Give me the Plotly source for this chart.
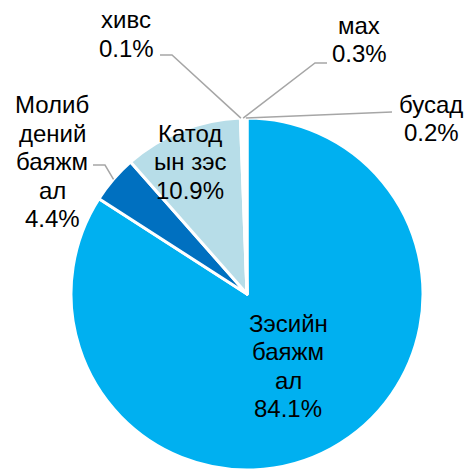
import math
import plotly.graph_objects as go

# ---- data ----
labels = ["Зэсийн баяжмал", "Молибдений баяжмал", "Катодын зэс", "хивс", "мах", "бусад"]
label_lines = [
    ["Зэсийн", "баяжм", "ал"],
    ["Молиб", "дений", "баяжм", "ал"],
    ["Катод", "ын зэс"],
    ["хивс"],
    ["мах"],
    ["бусад"],
]
values = [84.1, 4.4, 10.9, 0.1, 0.3, 0.2]
colors = ["#00B0F0", "#0070C0", "#B7DDE8", "#FFFFFF", "#FFFFFF", "#FFFFFF"]

# ---- layout constants (target-picture pixels) ----
W, H = 468, 470
CX, CY, R = 247, 294, 176
FONT = dict(family="Liberation Sans, Arial, sans-serif", size=24, color="#000000")
LINE_H = 28.5
LEADER = "#A6A6A6"

# label block placement: (center x, first line y); leader: label-side points
label_pos = [
    (288, 323),
    (52, 105),
    (190, 133),
    (126, 20),
    (359, 25),
    (431, 104),
]
leader_pts = [
    None,
    [(93, 165), (105, 165)],
    None,
    [(160, 55), (172, 55)],
    [(327, 63), (315, 63)],
    [(392, 112)],
]


def px(x):
    return x / W


def py(y):
    return 1 - y / H


fig = go.Figure(
    go.Pie(
        labels=labels,
        values=values,
        sort=False,
        direction="clockwise",
        rotation=0,
        textinfo="none",
        marker=dict(colors=colors, line=dict(color="#FFFFFF", width=3)),
        domain=dict(x=[px(CX - R), px(CX + R)], y=[max(0, py(CY + R)), py(CY - R)]),
        showlegend=False,
        hoverinfo="label+percent",
    )
)

total = sum(values)
annotations = []
shapes = []
cum = 0.0
for i, v in enumerate(values):
    mid = (cum + v / 2) / total * 2 * math.pi
    cum += v
    lines = label_lines[i] + [f"{v:.1f}%"]
    x0, y0 = label_pos[i]
    for k, t in enumerate(lines):
        annotations.append(
            dict(
                x=px(x0), y=py(y0 + k * LINE_H), xref="paper", yref="paper",
                text=t, showarrow=False, font=FONT,
                xanchor="center", yanchor="middle",
            )
        )
    if leader_pts[i]:
        ax = CX + R * math.sin(mid)
        ay = CY - R * math.cos(mid)
        pts = leader_pts[i] + [(ax, ay)]
        path = "M " + " L ".join(f"{px(a):.5f},{py(b):.5f}" for a, b in pts)
        shapes.append(
            dict(type="path", path=path, xref="paper", yref="paper",
                 line=dict(color=LEADER, width=1.5))
        )

fig.update_layout(
    width=W, height=H,
    margin=dict(l=0, r=0, t=0, b=0),
    paper_bgcolor="#FFFFFF",
    plot_bgcolor="#FFFFFF",
    annotations=annotations,
    shapes=shapes,
)

fig.write_html(
    "out.html",
    config={"displayModeBar": False},
    post_script="document.body.style.margin='0';document.body.style.overflow='hidden';",
)
